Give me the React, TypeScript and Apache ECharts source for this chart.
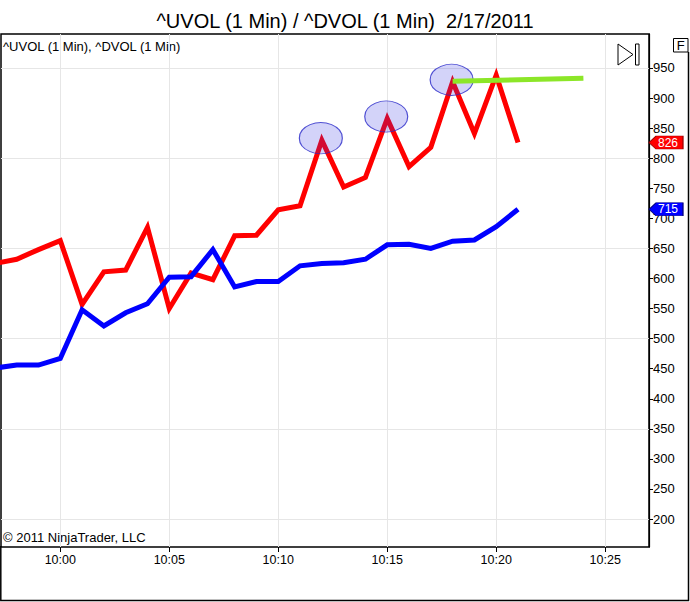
import { useEffect, useRef } from "react";
import * as echarts from "echarts";

const times = ["9:57", "9:58", "9:59", "10:00", "10:01", "10:02", "10:03", "10:04", "10:05", "10:06", "10:07", "10:08", "10:09", "10:10", "10:11", "10:12", "10:13", "10:14", "10:15", "10:16", "10:17", "10:18", "10:19", "10:20", "10:21"];
const uvol = [625, 632, 648, 663, 557, 611, 614, 685, 550, 609, 598, 671, 672, 714, 721, 830, 752, 768, 866, 786, 818, 927, 841, 938, 826];
const dvol = [451, 456, 456, 467, 548, 521, 543, 558, 602, 603, 648, 586, 595, 595, 621, 625, 626, 632, 656, 657, 650, 662, 664, 686, 715];
const trendTimes = ["10:18", "10:24"];
const trendValues = [928, 933];
const peakTimes = ["10:12", "10:15", "10:18"];
const peakValues = [830, 866, 927];
const xTickLabels = ["10:00", "10:05", "10:10", "10:15", "10:20", "10:25"];
const yTickValues = [200, 250, 300, 350, 400, 450, 500, 550, 600, 650, 700, 750, 800, 850, 900, 950];
const yGridValues = [200, 350, 500, 650, 800, 950];

const FONT = "'Liberation Sans', Arial, sans-serif";
const X_MIN = 597.28;
const X_MAX = 627.01;
const Y_MIN = 153.5;
const Y_MAX = 1006.5;

const toMin = (t: string) => {
  const [h, m] = t.split(":").map(Number);
  return h * 60 + m;
};
const fmtMin = (v: number) => {
  const h = Math.floor(v / 60);
  const m = Math.round(v - h * 60);
  return `${h}:${m < 10 ? "0" + m : m}`;
};

export default function App() {
  const ref = useRef<HTMLDivElement>(null);
  useEffect(() => {
    if (!ref.current) return;
    const chart = echarts.init(ref.current, undefined, { renderer: "svg" });
    const tagSymbol = "path://M0,6.5 L7,0 L34,0 L34,13 L7,13 Z";
    const lastIdx = times.length - 1;
    chart.setOption({
      animation: false,
      backgroundColor: "#ffffff",
      title: {
        text: "^UVOL (1 Min) / ^DVOL (1 Min)  2/17/2011",
        left: "center",
        top: 6,
        textStyle: { fontSize: 20, fontWeight: "normal", fontFamily: FONT, color: "#000" },
      },
      grid: {
        left: 1,
        right: 41,
        top: 34,
        bottom: 55,
        show: true,
        borderColor: "#000",
        borderWidth: 1.5,
        backgroundColor: "transparent",
      },
      xAxis: {
        type: "value",
        min: X_MIN,
        max: X_MAX,
        axisLine: { show: false },
        axisTick: {
          show: true,
          customValues: xTickLabels.map(toMin),
          length: 5,
          lineStyle: { color: "#000", width: 1 },
        },
        axisLabel: {
          customValues: xTickLabels.map(toMin),
          formatter: (v: number) => fmtMin(v),
          margin: 6,
          fontSize: 12.5,
          fontFamily: FONT,
          color: "#000",
        },
        splitLine: { show: true, lineStyle: { color: "#e6e6e6", width: 1 } },
      },
      yAxis: [
        {
          type: "value",
          position: "right",
          min: Y_MIN,
          max: Y_MAX,
          axisLine: { show: true, lineStyle: { color: "#000", width: 1.2 } },
          axisTick: {
            show: true,
            customValues: yTickValues,
            length: 4,
            lineStyle: { color: "#000", width: 1 },
          },
          axisLabel: {
            customValues: yTickValues,
            margin: 4,
            fontSize: 13,
            fontFamily: FONT,
            color: "#000",
          },
          splitLine: { show: false },
        },
        {
          type: "value",
          position: "right",
          min: Y_MIN,
          max: Y_MAX,
          axisLine: { show: false },
          axisTick: { show: false, customValues: yGridValues },
          axisLabel: { show: false, customValues: yGridValues },
          splitLine: { show: true, lineStyle: { color: "#e6e6e6", width: 1 } },
        },
      ],
      series: [
        {
          name: "^UVOL (1 Min)",
          type: "line",
          data: times.map((t, i) => [toMin(t), uvol[i]]),
          symbol: "none",
          z: 3,
          lineStyle: { color: "#ff0000", width: 5, join: "miter", miterLimit: 10 },
          itemStyle: { color: "#ff0000" },
          markPoint: {
            symbol: tagSymbol,
            symbolSize: [34, 13],
            symbolKeepAspect: false,
            symbolOffset: [17, 0],
            itemStyle: { color: "#ff0000", borderColor: "#a00000", borderWidth: 0.8 },
            label: {
              show: true,
              position: "inside",
              offset: [2, 0],
              formatter: (p: any) => String(p.value),
              color: "#fff",
              fontSize: 12,
              fontFamily: FONT,
            },
            data: [{ coord: [X_MAX, uvol[lastIdx]], value: uvol[lastIdx] }],
          },
        },
        {
          name: "^DVOL (1 Min)",
          type: "line",
          data: times.map((t, i) => [toMin(t), dvol[i]]),
          symbol: "none",
          z: 3,
          lineStyle: { color: "#0000ff", width: 5, join: "miter", miterLimit: 10 },
          itemStyle: { color: "#0000ff" },
          markPoint: {
            symbol: tagSymbol,
            symbolSize: [34, 13],
            symbolKeepAspect: false,
            symbolOffset: [17, 0],
            itemStyle: { color: "#0000ff", borderColor: "#000080", borderWidth: 0.8 },
            label: {
              show: true,
              position: "inside",
              offset: [2, 0],
              formatter: (p: any) => String(p.value),
              color: "#fff",
              fontSize: 12,
              fontFamily: FONT,
            },
            data: [{ coord: [X_MAX, dvol[lastIdx]], value: dvol[lastIdx] }],
          },
        },
        {
          name: "peaks",
          type: "scatter",
          data: peakTimes.map((t, i) => [toMin(t), peakValues[i]]),
          symbol: "circle",
          symbolSize: [43, 31],
          symbolOffset: [-1, -2],
          z: 4,
          itemStyle: { color: "rgba(50,50,225,0.27)", borderColor: "#2828c8", borderWidth: 1 },
        },
        {
          name: "trend",
          type: "line",
          data: trendTimes.map((t, i) => [toMin(t), trendValues[i]]),
          symbol: "none",
          z: 5,
          lineStyle: { color: "#8ce628", width: 5, cap: "butt" },
          itemStyle: { color: "#8ce628" },
        },
      ],
      graphic: [
        {
          type: "text",
          left: 3,
          top: 40,
          style: { text: "^UVOL (1 Min), ^DVOL (1 Min)", fontSize: 13, fontFamily: FONT, fill: "#000" },
        },
        {
          type: "text",
          left: 3,
          top: 531,
          style: { text: "© 2011 NinjaTrader, LLC", fontSize: 13, fontFamily: FONT, fill: "#000" },
        },
        {
          type: "polygon",
          shape: { points: [[618, 44], [633, 54.5], [618, 65]] },
          style: { fill: "#fff", stroke: "#000", lineWidth: 1 },
        },
        {
          type: "rect",
          shape: { x: 635.5, y: 44, width: 3.5, height: 21 },
          style: { fill: "#fff", stroke: "#000", lineWidth: 1 },
        },
        {
          type: "rect",
          shape: { x: 673.5, y: 38.5, width: 14.5, height: 13.5 },
          style: { fill: "#fff", stroke: "#000", lineWidth: 1 },
        },
        {
          type: "text",
          x: 680.8,
          y: 45.5,
          style: { text: "F", fontSize: 13, fontFamily: FONT, fill: "#000", align: "center", verticalAlign: "middle" },
        },
        {
          type: "polyline",
          shape: { points: [[0.8, 546], [0.8, 600.5], [688.5, 600.5], [688.5, 52]] },
          style: { stroke: "#000", lineWidth: 1.5, fill: "none" },
        },
      ],
    });
    return () => chart.dispose();
  }, []);
  return (
    <div
      ref={ref}
      style={{ position: "absolute", left: 0, top: 0, width: 690, height: 602, background: "#fff" }}
    />
  );
}
